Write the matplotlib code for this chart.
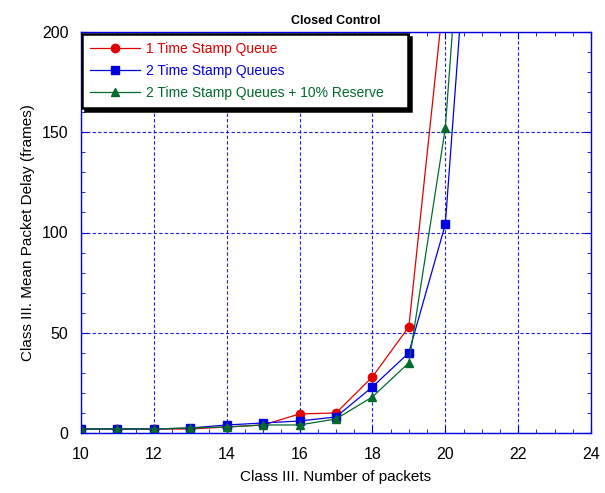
import matplotlib.pyplot as plt
from matplotlib.ticker import MultipleLocator

plt.rcParams["font.family"] = ["Liberation Sans", "DejaVu Sans"]

packets = [10, 11, 12, 13, 14, 15, 16, 17, 18, 19, 20, 21]
delay_1q = [2, 2, 2, 2, 3, 4, 9.5, 10, 28, 53, 225, 600]
delay_2q = [2, 2, 2, 2.5, 4, 5, 6, 8, 23, 40, 104, 350]
delay_2q_res = [2, 2, 2, 2.5, 3, 4, 4, 7, 18, 35, 152, 400]

labels = ["1 Time Stamp Queue", "2 Time Stamp Queues",
          "2 Time Stamp Queues + 10% Reserve"]
colors = ["#e00000", "#0000e0", "#006b2a"]
markers = ["o", "s", "^"]

fig = plt.figure(figsize=(6.05, 4.93), dpi=100)
ax = fig.add_axes([81 / 605, 1 - 433 / 493, 510 / 605, 401 / 493])

for ys, lab, c, m in zip([delay_1q, delay_2q, delay_2q_res], labels, colors, markers):
    ax.plot(packets, ys, color=c, marker=m, markersize=6, linewidth=0.9, label=lab)

ax.set_xlim(10, 24)
ax.set_ylim(0, 200)
ax.xaxis.set_major_locator(MultipleLocator(2))
ax.xaxis.set_minor_locator(MultipleLocator(0.5))
ax.yaxis.set_major_locator(MultipleLocator(50))
ax.yaxis.set_minor_locator(MultipleLocator(10))
ax.tick_params(which="both", direction="in", top=True, right=True, color="#0000e0",
               labelsize=11.5, labelcolor="black")
ax.tick_params(which="major", length=5)
ax.tick_params(which="minor", length=3)
ax.tick_params(axis="x", which="major", pad=10)
ax.tick_params(axis="y", which="major", pad=9)
for s in ax.spines.values():
    s.set_color("#0000e0")
    s.set_linewidth(1.0)

ax.grid(True, which="major", color="#2020e0", linestyle=(0, (3, 2)), linewidth=0.8)

ax.set_xlabel("Class III. Number of packets", fontsize=11, labelpad=6)
ax.set_ylabel("Class III. Mean Packet Delay (frames)", fontsize=11, labelpad=5)
ax.set_title("Closed Control", fontsize=9, fontweight="bold", pad=6)

# legend box stretched to a fixed width, sitting in the top-left corner
leg = ax.legend(loc="upper left", bbox_to_anchor=(0.002, 0.0, 0.64, 0.995),
                mode="expand", fontsize=10,
                labelcolor="linecolor", handlelength=3.6, borderaxespad=0.0,
                fancybox=False, framealpha=1, edgecolor="black",
                shadow={"color": "black", "alpha": 1}, borderpad=0.6,
                labelspacing=0.55, handletextpad=0.4)
leg.get_frame().set_linewidth(1.8)

fig.savefig("out.png", dpi=100)
